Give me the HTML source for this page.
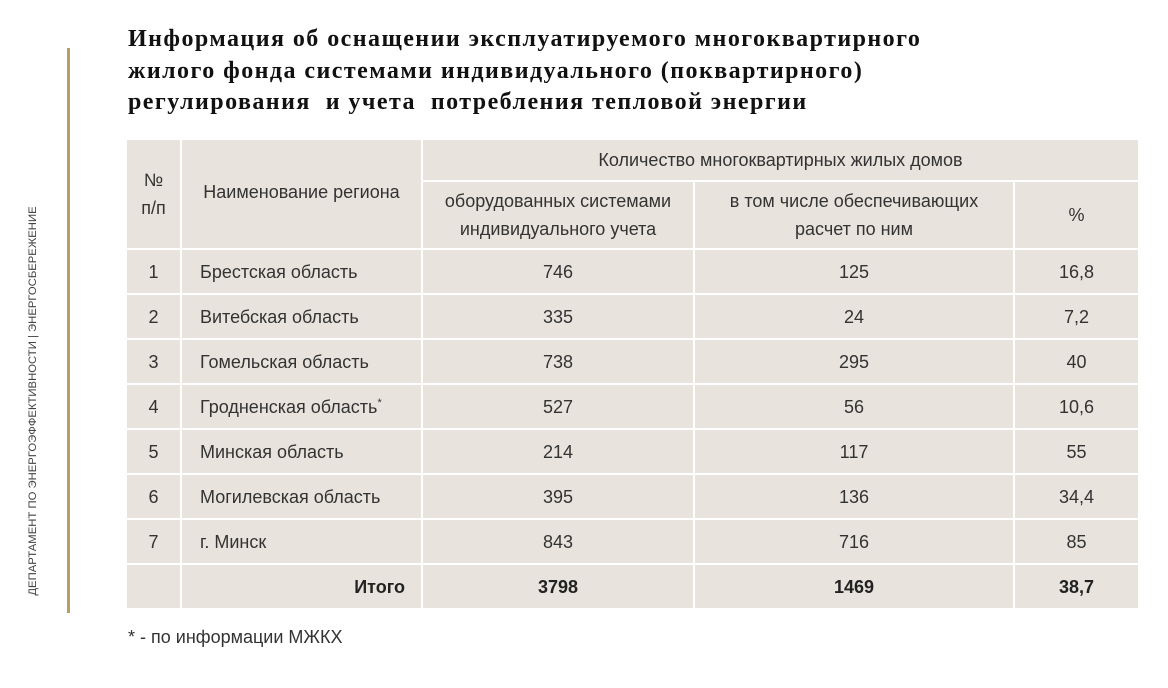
<!DOCTYPE html>
<html><head><meta charset="utf-8"><style>
body{margin:0;width:1168px;height:688px;background:#fff;position:relative;overflow:hidden;font-family:"Liberation Sans",sans-serif;color:#333}
.abs{position:absolute}
.title{left:128px;top:24px;font-family:"Liberation Serif",serif;font-weight:bold;font-size:24px;letter-spacing:1.45px;line-height:31.5px;color:#111;white-space:nowrap}
table{position:absolute;left:125px;top:138px;border-collapse:collapse;font-size:18px}
td{background:#e8e3dc;border:2px solid #fff;text-align:center;padding:0;line-height:28px}
.side{left:33px;top:401px;transform:translate(-50%,-50%) rotate(-90deg);font-size:11.3px;white-space:nowrap;color:#444}
</style></head><body>
<div class="abs" style="left:67px;top:48px;width:3px;height:565px;background:#b89f61"></div>
<div class="abs side">ДЕПАРТАМЕНТ ПО ЭНЕРГОЭФФЕКТИВНОСТИ | ЭНЕРГОСБЕРЕЖЕНИЕ</div>
<div class="abs title">Информация об оснащении эксплуатируемого многоквартирного<br>жилого фонда системами индивидуального (поквартирного)<br>регулирования&nbsp; и учета&nbsp; потребления тепловой энергии</div>
<table>
<colgroup><col style="width:55px"><col style="width:241px"><col style="width:272px"><col style="width:320px"><col style="width:125px"></colgroup>
<tr style="height:42px"><td rowspan="2">№<br>п/п</td><td rowspan="2" style="padding-bottom:4px">Наименование региона</td><td colspan="3">Количество многоквартирных жилых домов</td></tr>
<tr style="height:68px"><td>оборудованных системами<br>индивидуального учета</td><td>в том числе обеспечивающих<br>расчет по ним</td><td>%</td></tr>
<tr style="height:45px"><td>1</td><td style="text-align:left;padding-left:18px">Брестская область</td><td>746</td><td>125</td><td>16,8</td></tr>
<tr style="height:45px"><td>2</td><td style="text-align:left;padding-left:18px">Витебская область</td><td>335</td><td>24</td><td>7,2</td></tr>
<tr style="height:45px"><td>3</td><td style="text-align:left;padding-left:18px">Гомельская область</td><td>738</td><td>295</td><td>40</td></tr>
<tr style="height:45px"><td>4</td><td style="text-align:left;padding-left:18px">Гродненская область<sup style="font-size:11px;line-height:0">*</sup></td><td>527</td><td>56</td><td>10,6</td></tr>
<tr style="height:45px"><td>5</td><td style="text-align:left;padding-left:18px">Минская область</td><td>214</td><td>117</td><td>55</td></tr>
<tr style="height:45px"><td>6</td><td style="text-align:left;padding-left:18px">Могилевская область</td><td>395</td><td>136</td><td>34,4</td></tr>
<tr style="height:45px"><td>7</td><td style="text-align:left;padding-left:18px">г. Минск</td><td>843</td><td>716</td><td>85</td></tr>
<tr style="height:45px;font-weight:bold;color:#222"><td></td><td style="text-align:right;padding-right:16px">Итого</td><td>3798</td><td>1469</td><td>38,7</td></tr>
</table>
<div class="abs" style="left:128px;top:627px;font-size:18px">* - по информации МЖКХ</div>
</body></html>
